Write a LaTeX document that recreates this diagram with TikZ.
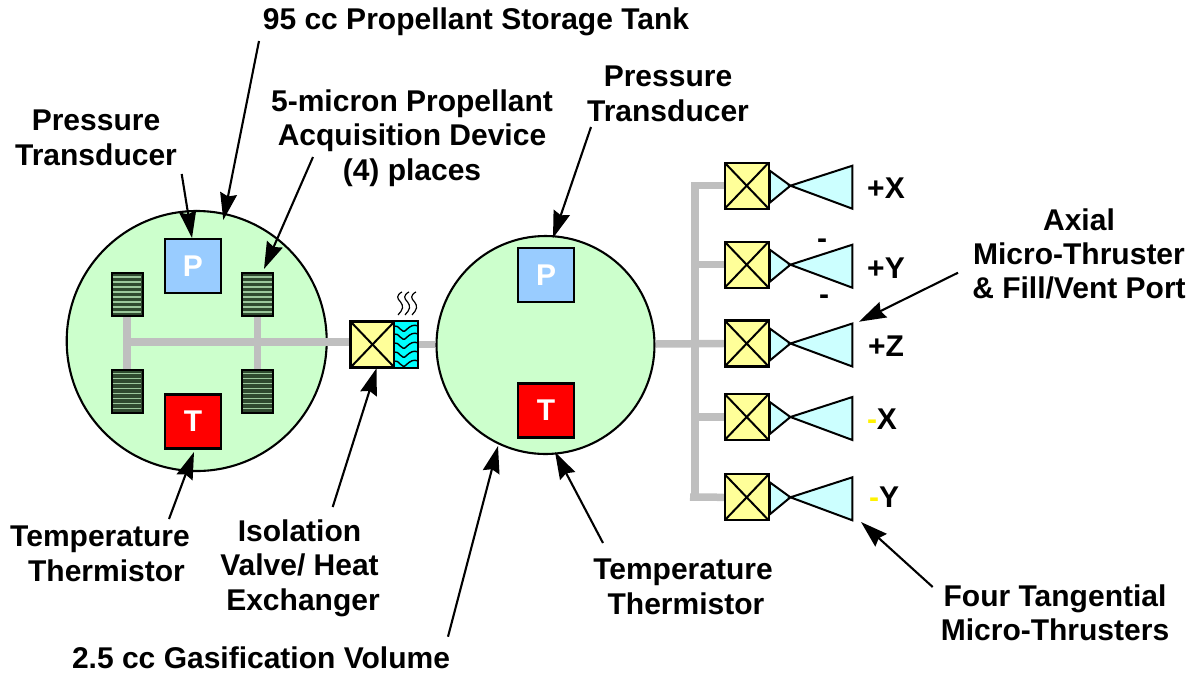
\documentclass[tikz,border=0pt]{standalone}
\usepackage{fontspec}
\setmainfont{Liberation Sans}
\usetikzlibrary{arrows.meta,calc}
\definecolor{tankgreen}{HTML}{CCFFCC}
\definecolor{pblue}{HTML}{99CCFF}
\definecolor{valvey}{HTML}{FFFF99}
\definecolor{thrc}{HTML}{CCFFFF}
\definecolor{hxc}{HTML}{00FFFF}
\definecolor{pipec}{HTML}{BFBFBF}
\definecolor{griddark}{HTML}{2F4A2F}
\definecolor{gridlight}{HTML}{9CC89C}
\tikzset{
  x=1pt,y=-1pt,
  lbl/.style={font=\fontsize{30}{34.4}\selectfont\bfseries,align=center,inner sep=0pt,text=black},
  tank/.style={circle,draw=black,line width=2.1pt,fill=tankgreen,inner sep=0pt},
  sensor/.style={rectangle,draw=black,line width=2.2pt,inner sep=0pt,minimum width=56pt,minimum height=54pt,text=white,font=\fontsize{30}{32}\selectfont\bfseries},
  gridbox/.style={rectangle,draw=black,line width=2pt,fill=griddark,inner sep=0pt,minimum width=31pt,minimum height=43pt},
  valve/.style={rectangle,draw=black,line width=2.2pt,fill=valvey,inner sep=0pt,minimum width=44pt,minimum height=46pt,
    path picture={\draw[black,line width=2pt] (path picture bounding box.north west)--(path picture bounding box.south east)
      (path picture bounding box.north east)--(path picture bounding box.south west);}},
  hxbox/.style={rectangle,draw=black,line width=2.2pt,fill=hxc,inner sep=0pt,minimum width=24pt,minimum height=47pt},
  pipe/.style={draw=pipec,line width=7.5pt},
  leader/.style={draw=black,line width=2.1pt,-{Stealth[length=27pt,width=17pt,inset=3pt]}},
  thr/.style={draw=black,line width=2pt,fill=thrc,line join=miter},
}
\begin{document}
\begin{tikzpicture}
\useasboundingbox (0,0) rectangle (1189,673);
% tanks
\node[tank,minimum size=260pt] (tankA) at (196.7,341) {};
\node[tank,minimum size=218pt] (tankB) at (545.5,345) {};
% sensors
\node[sensor,fill=pblue] (pA) at (193,266) {P};
\node[sensor,fill=red] (tA) at (193,421.5) {T};
\node[sensor,fill=pblue] (pB) at (546,275) {P};
\node[sensor,fill=red] (tB) at (546,410.5) {T};
% acquisition devices
\foreach \n/\px/\py in {gTL/127/294.5,gTR/257.5/294.5,gBL/127/391,gBR/257.5/391}{
  \node[gridbox] (\n) at (\px,\py) {};
  \foreach \k in {-17.5,-12.5,...,18}{
    \draw[gridlight,line width=1.1pt] ($(\n.center)+(-14.3,\k)$) -- ($(\n.center)+(14.3,\k)$);
  }
}
% isolation valve and heat exchanger
\node[valve] (vIso) at (372.5,344.5) {};
\node[hxbox] (hx) at (406,344.5) {};
\begin{scope}
  \clip (hx.north west) rectangle (hx.south east);
  \foreach \wy in {328,336,345,354,363}{
    \draw[black,line width=1.4pt] ($(hx.center |- 0,\wy)+(-12,-2)$)
      .. controls +(5,-2) and +(-4,5) .. ($(hx.center |- 0,\wy)+(0,2)$)
      .. controls +(4,-4) and +(-4,-2) .. ($(hx.center |- 0,\wy)+(12,-2)$);
  }
\end{scope}
\foreach \sx in {0,7,14}{
  \draw[black,line width=1.2pt] ($(hx.north)+(\sx-8,-5)$)
    .. controls +(5,-5) and +(3.5,4) .. ++(2.5,-13)
    .. controls +(-3.5,-3.5) and +(-6,3.5) .. ++(1.5,-10);
}
% pipes
\coordinate (jL) at (127,342);
\coordinate (jR) at (257.5,342);
\coordinate (bus) at (695,344);
\coordinate (busTop) at (695,182);
\coordinate (busEnd) at (690,497);
\draw[pipe] (gTL.south) -- (gBL.north);
\draw[pipe] (gTR.south) -- (gBR.north);
\draw[pipe] (jL) -- (jL -| vIso.west);
\draw[pipe] (hx.east) -- (hx.east -| tankB.west);
% thrusters
\foreach \v/\vy in {vX/185.7,vY/264.7,vZ/343.5,vMX/417,vMY/497.3}{
  \node[valve] (\v) at (746.7,\vy) {};
  \draw[thr] ($(\v.east)+(0,-15)$) -- ($(\v.east)+(20.6,0)$) -- ($(\v.east)+(0,17)$) -- cycle;
  \draw[thr] ($(\v.east)+(20.6,0)$) -- ($(\v.east)+(82.6,-20)$) -- ($(\v.east)+(82.6,23)$) -- cycle;
  \draw[pipe] (\v.west) -- (\v.west -| bus);
}
\draw[pipe] (tankB.east |- bus) -- (vZ.west);
\draw[pipe] (busTop) -- (busTop |- 0,501);
\draw[pipe] (vMY.west) -- (busEnd);
% labels
\node[lbl] (l95) at (476,22) {95 cc Propellant Storage Tank};
\node[lbl] (lPA) at (96,138) {Pressure\\Transducer};
\node[lbl] (l5m) at (412,138) {5-micron Propellant\\Acquisition Device\\(4) places};
\node[lbl] (lPB) at (668,94) {Pressure\\Transducer};
\node[lbl] (lAx) at (1079,254) {Axial\\Micro-Thruster\\\& Fill/Vent Port};
\node[lbl] (lTA) at (100,554) {Temperature\\\hspace*{13pt}Thermistor};
\node[lbl] (lIso) at (299.5,568) {Isolation\\Valve/ Heat\\\hspace*{7pt}Exchanger};
\node[lbl] (lTB) at (683,587) {Temperature\\\hspace*{6pt}Thermistor};
\node[lbl] (lFour) at (1055,613) {Four Tangential\\Micro-Thrusters};
\node[lbl] (lGas) at (261,658) {2.5 cc Gasification Volume};
\node[lbl] (tX) at (886,188) {+X};
\node[lbl] (tY) at (886,268) {+Y};
\node[lbl] (tZ) at (886,346) {+Z};
\node[lbl] (tMX) at (882,419) {\textcolor{yellow}{-}X};
\node[lbl] (tMY) at (884,497) {\textcolor{yellow}{-}Y};
\node[lbl] (dashA) at (822,244) {-};
\node[lbl] (dashB) at (824,300) {-};
% leaders
\coordinate (s95) at (259,41);   \coordinate (e95) at (223.3,220);
\coordinate (sPA) at (181.7,174);  \coordinate (ePA) at (192,238);
\coordinate (s5m) at (313,157);  \coordinate (e5m) at (264,269);
\coordinate (sPB) at (591,127);  \coordinate (ePB) at (553,238);
\coordinate (sTA) at (169,519);  \coordinate (eTA) at (194,452);
\coordinate (sIso) at (332.7,507); \coordinate (eIso) at (376.7,368);
\coordinate (sGas) at (448,636.7); \coordinate (eGas) at (498,446);
\coordinate (sTB) at (603,543);  \coordinate (eTB) at (555,452);
\coordinate (sAx) at (958,272.7);  \coordinate (eAx) at (859,321.7);
\coordinate (sFour) at (932.7,587);\coordinate (eFour) at (861,522);
\foreach \n in {95,PA,5m,PB,TA,Iso,Gas,TB,Ax,Four}{
  \draw[leader] (s\n) -- (e\n);
}
\end{tikzpicture}
\end{document}
